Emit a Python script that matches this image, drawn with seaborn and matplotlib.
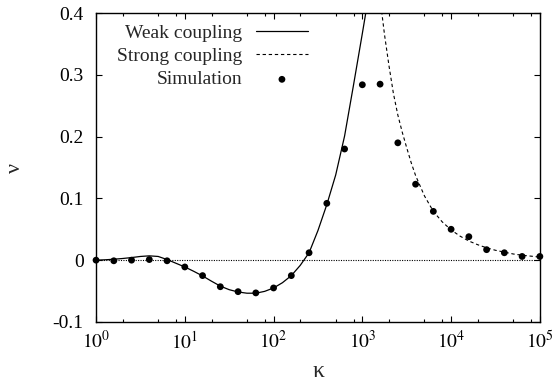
import numpy as np
import pandas as pd
import seaborn as sb
import matplotlib.pyplot as plt
from matplotlib.ticker import FixedLocator, NullFormatter

# simulation points (kappa, nu)
kappa_sim = [1, 1.585, 2.512, 3.981, 6.31, 10, 15.85, 25.12, 39.81, 63.1,
             100, 158.5, 251.2, 398.1, 631, 1000, 1585, 2512, 3981, 6310,
             10000, 15850, 25120, 39810, 63100, 100000]
nu_sim = [0.0, -0.001, 0.0, 0.001, -0.001, -0.011, -0.025, -0.043, -0.051, -0.053,
          -0.045, -0.025, 0.012, 0.092, 0.180, 0.284, 0.285, 0.190, 0.123, 0.079,
          0.050, 0.038, 0.017, 0.012, 0.006, 0.006]

# weak coupling curve (log10 kappa, nu)
log_kappa_weak = [0.0, 0.1, 0.2, 0.3, 0.4, 0.5, 0.6, 0.7, 0.8, 0.9, 1.0, 1.1, 1.2,
                  1.3, 1.4, 1.5, 1.6, 1.7, 1.8, 1.9, 2.0, 2.1, 2.2, 2.3, 2.4, 2.5,
                  2.6, 2.7, 2.8, 2.9, 3.0, 3.05]
nu_weak = [0.0, 0.0006, 0.0015, 0.0027, 0.0042, 0.006, 0.007, 0.006, 0.001, -0.005,
           -0.011, -0.018, -0.0255, -0.034, -0.042, -0.0478, -0.0515, -0.0535,
           -0.0535, -0.0505, -0.045, -0.0365, -0.025, -0.0085, 0.012, 0.048,
           0.090, 0.138, 0.201, 0.283, 0.367, 0.41]

# strong coupling curve
log_kappa_strong = [3.20, 3.22, 3.25, 3.30, 3.35, 3.40, 3.45, 3.50, 3.55, 3.60,
                    3.70, 3.80, 3.90, 4.00, 4.10, 4.20, 4.30, 4.40, 4.50, 4.60,
                    4.70, 4.80, 4.90, 5.00]
nu_strong = [0.43, 0.40, 0.365, 0.315, 0.27, 0.235, 0.207, 0.182, 0.158, 0.137,
             0.104, 0.079, 0.062, 0.049, 0.039, 0.031, 0.025, 0.020, 0.016, 0.013,
             0.010, 0.008, 0.0065, 0.005]

xtick_vals = [1, 10, 100, 1000, 10000, 100000]
xtick_labels = [r'$10^{0}$', r'$10^{1}$', r'$10^{2}$', r'$10^{3}$', r'$10^{4}$', r'$10^{5}$']
ytick_vals = [-0.1, 0.0, 0.1, 0.2, 0.3, 0.4]
ytick_labels = ['-0.1', '0', '0.1', '0.2', '0.3', '0.4']

weak_df = pd.DataFrame({'kappa': 10 ** np.array(log_kappa_weak), 'nu': nu_weak})
strong_df = pd.DataFrame({'kappa': 10 ** np.array(log_kappa_strong), 'nu': nu_strong})
sim_df = pd.DataFrame({'kappa': kappa_sim, 'nu': nu_sim})

sb.set_style("ticks")
plt.rcParams['font.family'] = ['Liberation Serif', 'DejaVu Serif']
plt.rcParams['mathtext.fontset'] = 'stix'

fig = plt.figure(figsize=(5.52, 3.86), dpi=100)
ax = fig.add_axes([0.174, 0.166, 0.804, 0.800])

ax.axhline(0, color='black', lw=0.8, ls=(0, (1, 1.2)), zorder=1)
sb.lineplot(data=weak_df, x='kappa', y='nu', ax=ax, color='black', lw=0.9,
            sort=False, estimator=None, label='Weak coupling')
sb.lineplot(data=strong_df, x='kappa', y='nu', ax=ax, color='black', lw=0.8,
            sort=False, estimator=None, ls=(0, (3, 2.5)), label='Strong coupling')
sb.scatterplot(data=sim_df, x='kappa', y='nu', ax=ax, color='black', s=24,
               edgecolor='none', label='Simulation', zorder=3, clip_on=False)

ax.set_xscale('log')
ax.set_xlim(1, 1e5)
ax.set_ylim(-0.1, 0.4)
ax.set_xticks(xtick_vals)
ax.set_xticklabels(xtick_labels)
ax.xaxis.set_minor_locator(FixedLocator([m * d for d in xtick_vals[:-1] for m in (2, 5, 8)]))
ax.xaxis.set_minor_formatter(NullFormatter())
ax.set_yticks(ytick_vals)
ax.set_yticklabels(ytick_labels)

ax.tick_params(which='both', direction='in', top=True, right=True, width=0.8,
               labelsize=14, colors='black')
ax.tick_params(which='major', length=4)
ax.tick_params(which='minor', length=2.5)
ax.tick_params(axis='x', pad=6)
ax.tick_params(axis='y', pad=9)
for s in ax.spines.values():
    s.set_linewidth(1.0)
    s.set_color('black')

ax.set_xlabel('κ', fontsize=17, labelpad=6)
ax.set_ylabel('ν', fontsize=16, labelpad=20)

ax.legend(loc='upper right', bbox_to_anchor=(0.478, 0.965), frameon=False,
          markerfirst=False, fontsize=14, handlelength=2.7, handletextpad=0.7,
          labelspacing=0.3, borderpad=0, borderaxespad=0)

fig.savefig('out.png', dpi=100)
